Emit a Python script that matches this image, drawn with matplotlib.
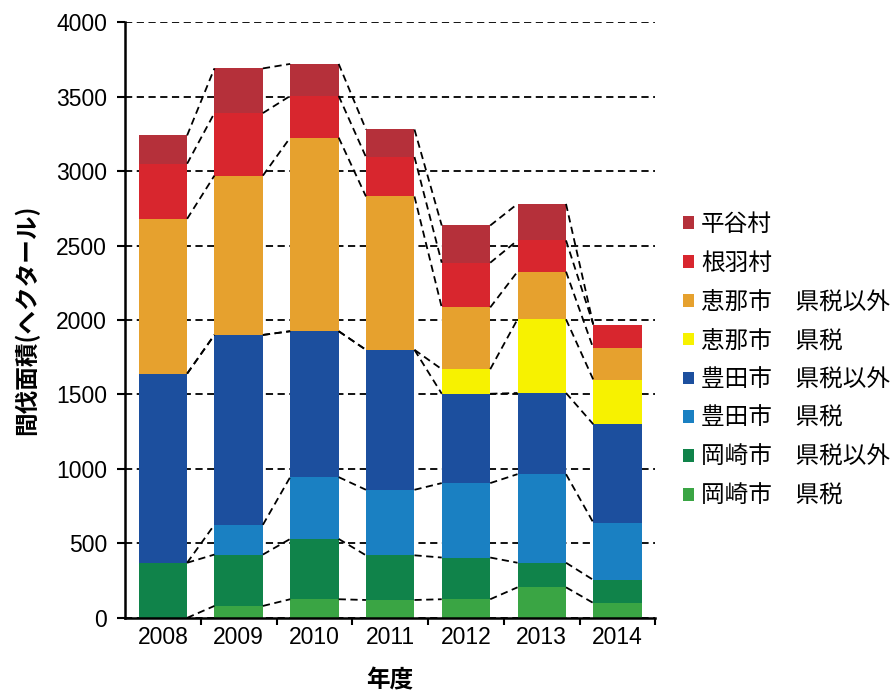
import matplotlib

matplotlib.use("Agg")
import matplotlib.pyplot as plt
import numpy as np
from matplotlib.patches import Patch

plt.rcParams["font.family"] = ["Noto Sans CJK JP", "DejaVu Sans"]

years = ["2008", "2009", "2010", "2011", "2012", "2013", "2014"]

# bottom to top
series_names = [
    "岡崎市　県税",
    "岡崎市　県税以外",
    "豊田市　県税",
    "豊田市　県税以外",
    "恵那市　県税",
    "恵那市　県税以外",
    "根羽村",
    "平谷村",
]
okazaki_ken = [0, 80, 125, 120, 125, 205, 100]
okazaki_other = [370, 345, 405, 300, 280, 165, 155]
toyota_ken = [0, 200, 415, 440, 500, 595, 385]
toyota_other = [1270, 1275, 980, 940, 600, 545, 660]
ena_ken = [0, 0, 0, 0, 165, 495, 300]
ena_other = [1040, 1070, 1300, 1030, 415, 320, 210]
nebane = [370, 420, 280, 265, 300, 210, 160]
hiraya = [190, 300, 215, 185, 250, 245, 0]

colors = [
    "#3aa544",
    "#10834a",
    "#1a80c2",
    "#1c4f9e",
    "#f7f200",
    "#e6a12e",
    "#d8262e",
    "#b5303a",
]

data = np.array([okazaki_ken, okazaki_other, toyota_ken, toyota_other,
                 ena_ken, ena_other, nebane, hiraya], dtype=float)
cum = np.cumsum(data, axis=0)

fig = plt.figure(figsize=(8.96, 6.95), dpi=100)
ax = fig.add_axes([0.1395, 0.111, 0.592, 0.857])

x = np.arange(len(years))
width = 0.64
bottom = np.zeros(len(years))
for vals, col in zip(data, colors):
    ax.bar(x, vals, width, bottom=bottom, color=col, zorder=2)
    bottom = bottom + vals

# series lines between bars
for level in cum:
    for i in range(len(years) - 1):
        ax.plot([x[i] + width / 2, x[i + 1] - width / 2],
                [level[i], level[i + 1]],
                color="black", ls=(0, (4, 2.5)), lw=1.3, zorder=3)

ax.set_ylim(0, 4000)
ax.set_xlim(-0.5, len(years) - 0.5)
ax.set_yticks(np.arange(0, 4001, 500))
ax.yaxis.grid(True, color="black", ls=(0, (4, 2.5)), lw=1.3, zorder=0)
ax.set_axisbelow(True)

ax.set_xticks(x + 0.5, minor=False)
ax.set_xticklabels([])
ax.set_xticks(x, minor=True)
ax.set_xticklabels(years, minor=True)
ax.tick_params(axis="x", which="minor", length=0, labelsize=16.5, pad=6)
ax.tick_params(axis="x", which="major", direction="out", length=5, width=1.5)
ax.tick_params(axis="y", direction="out", length=6, width=1.5, labelsize=16.5, pad=7)
for lab in ax.get_xticklabels(minor=True) + ax.get_yticklabels():
    lab.set_family(["Liberation Sans", "DejaVu Sans"])

for s in ["top", "right"]:
    ax.spines[s].set_visible(False)
for s in ["left", "bottom"]:
    ax.spines[s].set_linewidth(1.8)

ax.set_ylabel("間伐面積(ヘクタール)", fontsize=17, fontweight="bold", labelpad=12)
ax.set_xlabel("年度", fontsize=17, fontweight="bold", labelpad=14)

handles = [Patch(facecolor=c, label=n) for c, n in zip(colors, series_names)]
fig.legend(handles=handles[::-1], loc="upper left",
           bbox_to_anchor=(0.752, 0.707), frameon=False, fontsize=17,
           handlelength=0.45, handleheight=0.45, handletextpad=0.3,
           labelspacing=0.67, borderaxespad=0)

fig.savefig("out.png", dpi=100)
